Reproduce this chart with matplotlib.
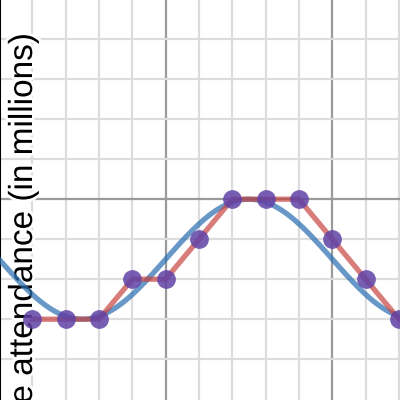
import numpy as np
import matplotlib
matplotlib.use("Agg")
import matplotlib.pyplot as plt
import matplotlib.patheffects as pe

# monthly attendance (in millions)
months = [1, 2, 3, 4, 5, 6, 7, 8, 9, 10, 11, 12]
attendance = [2, 2, 2, 3, 3, 4, 5, 5, 5, 4, 3, 2]

# sinusoidal model: y = offset - amp * sin(2*pi*x/period)
model_offset = 3.5
model_amp = 1.5
model_period = 10.0

fig = plt.figure(figsize=(4, 4), dpi=100)
ax = fig.add_axes([0, 0, 1, 1])
ax.set_xlim(0.03, 12.03)
ax.set_ylim(-0.02, 9.98)
ax.axis("off")

# grid
for gx in range(1, 13):
    major = gx % 5 == 0
    ax.axvline(gx, color="#9a9a9a" if major else "#dcdcdc", lw=1.6, zorder=0)
for gy in range(1, 10):
    major = gy % 5 == 0
    ax.axhline(gy, color="#9a9a9a" if major else "#dcdcdc", lw=1.6, zorder=0)
ax.axvline(0, color="black", lw=2.2, zorder=1)

# axis label sits under the curves, with a white halo over the grid
ax.text(0.08, 0.918, "Average attendance (in millions)", rotation=90,
        rotation_mode="anchor", ha="right", va="baseline", fontsize=24,
        family="Liberation Sans", color="black", transform=fig.transFigure,
        zorder=1.5, clip_on=False,
        path_effects=[pe.withStroke(linewidth=4, foreground="white")])

xs = np.linspace(0, 12.5, 400)
ax.plot(xs, model_offset - model_amp * np.sin(2 * np.pi * xs / model_period),
        color="#2d70b3", alpha=0.72, lw=3.8, solid_capstyle="round", zorder=2)
ax.plot(months, attendance, color="#c74440", alpha=0.7, lw=3.8,
        solid_joinstyle="round", zorder=3)
ax.plot(months, attendance, "o", color="#6042a6", alpha=0.85, ms=13.5,
        mec="none", zorder=4)

fig.savefig("out.png", dpi=100)
